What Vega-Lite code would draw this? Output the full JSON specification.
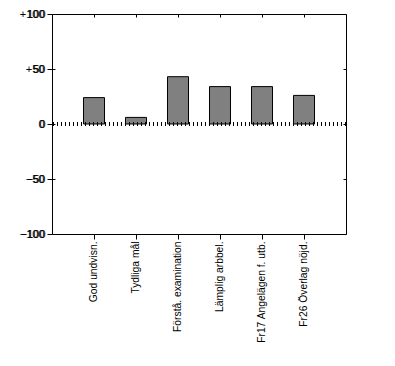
{
  "$schema": "https://vega.github.io/schema/vega-lite/v6.json",
  "width": 294,
  "height": 220,
  "padding": {"left": 5, "top": 8, "right": 5, "bottom": 5},
  "background": "white",
  "config": {
    "view": {"stroke": "black", "strokeWidth": 1},
    "font": "Liberation Sans",
    "axis": {"labelFont": "Liberation Sans", "labelFontSize": 11, "labelColor": "black", "tickColor": "black", "domain": false, "grid": false, "title": null}
  },
  "data": {
    "values": [
      {"item": "God undvisn.", "value": 24},
      {"item": "Tydliga mål", "value": 6},
      {"item": "Förstå. examination", "value": 43},
      {"item": "Lämplig arbbel.", "value": 34},
      {"item": "Fr17 Angelägen f. utb.", "value": 34},
      {"item": "Fr26 Överlag nöjd.", "value": 26}
    ]
  },
  "layer": [
    {
      "mark": {"type": "bar", "fill": "#808080", "stroke": "black", "strokeWidth": 1},
      "encoding": {
        "x": {"field": "item", "type": "nominal", "sort": null,
          "scale": {"paddingInner": 0.5, "paddingOuter": 0.75},
          "axis": {"orient": "bottom", "labelAngle": -90, "labelAlign": "right", "labelBaseline": "middle", "tickSize": 5, "labelPadding": 2, "labelFontSize": 10.3}},
        "y": {"field": "value", "type": "quantitative",
          "scale": {"domain": [-100, 100], "nice": false, "zero": false},
          "axis": {"orient": "left", "values": [-100, -50, 0, 50, 100], "tickSize": -3, "labelPadding": 11,
            "labelExpr": "datum.value > 0 ? '+' + datum.label : datum.label", "minExtent": 47, "maxExtent": 47}}
      }
    },
    {
      "mark": {"type": "bar", "opacity": 0},
      "encoding": {
        "x": {"field": "item", "type": "nominal", "sort": null,
          "axis": {"orient": "top", "labels": false, "tickSize": -3, "minExtent": 0, "maxExtent": 0}},
        "y": {"field": "value", "type": "quantitative",
          "axis": {"orient": "right", "labels": false, "values": [-100, -50, 0, 50, 100], "tickSize": -3, "minExtent": 0, "maxExtent": 0}}
      }
    },
    {
      "mark": {"type": "rule", "color": "black", "strokeDash": [1, 3], "strokeWidth": 3},
      "encoding": {"y": {"datum": 0, "type": "quantitative"}}
    }
  ],
  "resolve": {"axis": {"x": "independent", "y": "independent"}}
}
